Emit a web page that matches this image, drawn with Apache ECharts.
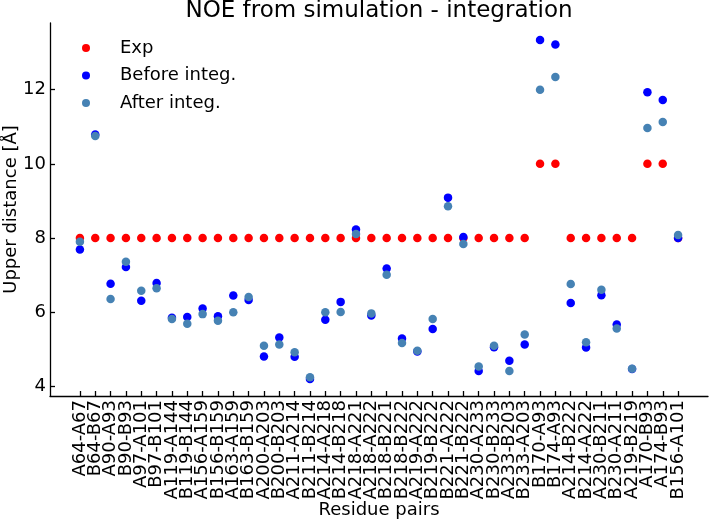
<!DOCTYPE html>
<html><head><meta charset="utf-8">
<script src="https://cdn.jsdelivr.net/npm/echarts@6/dist/echarts.min.js"></script>
<style>html,body{margin:0;padding:0;background:#fff}#c{width:709px;height:519px}</style>
</head><body><div id="c"></div>
<script>
const categories = ["A64-A67","B64-B67","A90-A93","B90-B93","A97-A101","B97-B101","A119-A144","B119-B144","A156-A159","B156-B159","A163-A159","B163-B159","A200-A203","B200-B203","A211-A214","B211-B214","A214-A218","B214-B218","A218-A221","A218-A222","B218-B221","B218-B222","A219-A222","B219-B222","B221-A222","B221-B222","A230-A233","B230-B233","A233-B203","B233-A203","B170-A93","B174-A93","A214-B222","B214-A222","A230-B211","B230-A211","A219-B219","A170-B93","A174-B93","B156-A101"];
const expValues = [8,8,8,8,8,8,8,8,8,8,8,8,8,8,8,8,8,8,8,8,8,8,8,8,8,8,8,8,8,8,10,10,8,8,8,8,8,10,10,8];
const beforeValues = [7.69,10.79,6.77,7.22,6.31,6.79,5.85,5.87,6.10,5.89,6.45,6.33,4.81,5.32,4.80,4.20,5.80,6.28,8.23,5.91,7.18,5.29,4.94,5.55,9.09,8.03,4.42,5.06,4.69,5.13,13.34,13.22,6.25,5.05,6.46,5.67,4.47,11.93,11.72,8.00];
const afterValues = [7.90,10.75,6.36,7.36,6.58,6.65,5.82,5.69,5.95,5.77,6.00,6.41,5.10,5.13,4.92,4.25,6.00,6.01,8.11,5.97,7.01,5.17,4.96,5.82,8.86,7.84,4.54,5.10,4.42,5.40,12.00,12.34,6.76,5.19,6.61,5.56,4.48,10.97,11.13,8.08];
const yTicks = [4,6,8,10,12];

const FONT = 'DejaVu Sans';
const idx = categories.map((_, i) => i);
const toPts = arr => arr.map((v, i) => [i, v]);

// x range with matplotlib-like 5% margins around the category indices
const XMIN = -1.95, XMAX = 40.95;
const GL = 50, GR = 1, GT = 23, GB = 123, W = 709;
const pxPer = (W - GL - GR) / (XMAX - XMIN);
const firstPx = GL + (0 - XMIN) * pxPer;
const lastPx = GL + (categories.length - 1 - XMIN) * pxPer;

const chart = echarts.init(document.getElementById('c'), null, {renderer: 'canvas'});
chart.setOption({
  animation: false,
  backgroundColor: '#fff',
  textStyle: {fontFamily: FONT},
  title: {
    text: 'NOE from simulation - integration',
    left: 379, top: 0, textAlign: 'center', padding: 0,
    textStyle: {fontFamily: FONT, fontSize: 23, fontWeight: 'normal', color: '#000'}
  },
  legend: {
    orient: 'vertical', left: 82, top: 38, padding: 0,
    itemWidth: 8, itemHeight: 8, itemGap: 7.5,
    icon: 'circle',
    textStyle: {fontFamily: FONT, fontSize: 18, color: '#000', lineHeight: 20, padding: [0, 0, 0, 25]},
    data: ['Exp', 'Before integ.', 'After integ.']
  },
  grid: [
    {left: GL, right: GR, top: GT, bottom: GB, containLabel: false, outerBoundsMode: 'none'},
    {left: firstPx, right: W - lastPx, top: GT, bottom: GB, containLabel: false, outerBoundsMode: 'none'}
  ],
  xAxis: [{
    gridIndex: 0, type: 'value', min: XMIN, max: XMAX,
    name: 'Residue pairs', nameLocation: 'middle', nameGap: 105, nameMoveOverlap: false,
    nameTextStyle: {fontFamily: FONT, fontSize: 18, color: '#000'},
    axisLine: {show: true, onZero: false, lineStyle: {color: '#000', width: 1.3}},
    axisTick: {show: true, inside: true, length: 5, customValues: idx, lineStyle: {color: '#000', width: 1.3}},
    axisLabel: {show: false},
    splitLine: {show: false}
  }, {
    gridIndex: 1, type: 'category', data: categories, boundaryGap: false,
    axisLine: {show: false}, axisTick: {show: false}, splitLine: {show: false},
    axisLabel: {rotate: 90, margin: 4, interval: 0, fontFamily: FONT, fontSize: 18, color: '#000'}
  }],
  yAxis: [{
    gridIndex: 0, type: 'value', min: 3.743, max: 13.797,
    name: 'Upper distance [Å]', nameLocation: 'middle', nameGap: 30, nameMoveOverlap: false,
    nameTextStyle: {fontFamily: FONT, fontSize: 18, color: '#000'},
    axisLine: {show: true, onZero: false, lineStyle: {color: '#000', width: 1.3}},
    axisTick: {show: true, inside: true, length: 5, customValues: yTicks, lineStyle: {color: '#000', width: 1.3}},
    axisLabel: {margin: 4, customValues: yTicks, fontFamily: FONT, fontSize: 18, color: '#000'},
    splitLine: {show: false}
  }, {
    gridIndex: 1, type: 'value', show: false, min: 0, max: 1
  }],
  series: [
    {name: 'Exp', type: 'scatter', symbol: 'circle', symbolSize: 8.5, itemStyle: {color: '#ff0000', opacity: 1}, data: toPts(expValues)},
    {name: 'Before integ.', type: 'scatter', symbol: 'circle', symbolSize: 8.5, itemStyle: {color: '#0000ff', opacity: 1}, data: toPts(beforeValues)},
    {name: 'After integ.', type: 'scatter', symbol: 'circle', symbolSize: 8.5, itemStyle: {color: '#4682b4', opacity: 1}, data: toPts(afterValues)}
  ]
});
</script></body></html>
